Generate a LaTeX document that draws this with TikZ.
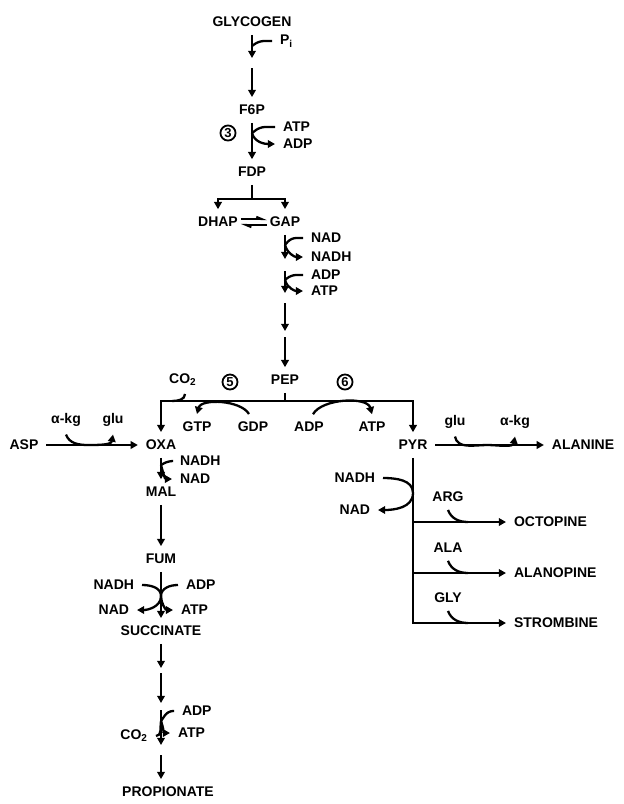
\documentclass[tikz,border=0pt]{standalone}
\usepackage{fontspec}
\setmainfont{Liberation Sans}
\usetikzlibrary{arrows.meta}

\begin{document}
\begin{tikzpicture}[x=0.5pt,y=-0.5pt,
    every node/.style={font=\fontsize{7}{8}\selectfont\bfseries},
    lbl/.style={inner sep=2pt,outer sep=2pt},
    num/.style={draw,circle,line width=0.9pt,inner sep=0.6pt,
                font=\fontsize{6.5}{7}\selectfont\bfseries},
    ln/.style={line width=1.15pt},
    arm/.style={ln,rounded corners=2.5pt},
    arr/.style={ln,-{Triangle[length=3.6pt,width=3.8pt]}},
    harp/.style={line width=0.9pt,shorten <=-2.5pt,shorten >=-2.5pt,
                 -{Straight Barb[left,length=3pt,width=2.5pt]}}]

  \useasboundingbox (0,0) rectangle (624,804);

  %% Glycogen to FDP
  \node[lbl] (glyc) at (252,22) {GLYCOGEN};
  \node[lbl,anchor=west] (pi) at (272,41) {P\textsubscript{i}};
  \coordinate (kpi) at (252,46);
  \coordinate (g1) at (252,58);
  \coordinate (g2) at (252,68);
  \node[lbl] (f6p) at (252,110) {F6P};
  \node[num] (n3) at (228,133) {3};
  \node[lbl,anchor=west] (atp1) at (275,127) {ATP};
  \node[lbl,anchor=west] (adp1) at (275,144) {ADP};
  \coordinate (k1) at (252,133);
  \node[lbl] (fdp) at (252,172) {FDP};
  \coordinate (fb) at (252,199);

  \draw[arr] (glyc) -- (g1);
  \draw[arm] (pi.west) -- ++(-13,0) -- (kpi);
  \draw[arr] (g2) -- (f6p);
  \draw[arr] (f6p) -- (fdp);
  \draw[arm] (atp1.west) -- ++(-15,0) -- (k1);
  \draw[arr] (k1) to[out=-75,in=180] (adp1.west);

  %% Triose phosphates
  \node[lbl] (dhap) at (218,222) {DHAP};
  \node[lbl] (gap) at (285,222) {GAP};
  \draw[ln] (fdp) -- (fb);
  \draw[arr] (fb) -| (dhap);
  \draw[arr] (fb) -| (gap);
  \draw[harp] ([yshift=1.4pt]dhap.east) -- ([yshift=1.4pt]gap.west);
  \draw[harp] ([yshift=-1.4pt]gap.west) -- ([yshift=-1.4pt]dhap.east);

  %% GAP to PEP
  \coordinate (h1) at (285,259);
  \coordinate (k2) at (285,245);
  \node[lbl,anchor=west] (nad1) at (303,238) {NAD};
  \node[lbl,anchor=west] (nadh1) at (303,257) {NADH};
  \coordinate (h2) at (285,271);
  \coordinate (k3) at (285,280);
  \coordinate (h3) at (285,293);
  \node[lbl,anchor=west] (adp2) at (303,275) {ADP};
  \node[lbl,anchor=west] (atp2) at (303,291) {ATP};
  \coordinate (h4) at (285,303);
  \coordinate (h5) at (285,331);
  \coordinate (h6) at (285,337);
  \node[lbl] (pep) at (285,380) {PEP};

  \draw[arr] (gap) -- (h1);
  \draw[arm] (nad1.west) -- ++(-12,0) -- (k2);
  \draw[arr] (k2) to[out=-75,in=180] (nadh1.west);
  \draw[arr] (h2) -- (h3);
  \draw[arm] (adp2.west) -- ++(-12,0) -- (k3);
  \draw[arr] (k3) to[out=-75,in=180] (atp2.west);
  \draw[arr] (h4) -- (h5);
  \draw[arr] (h6) -- (pep);

  %% PEP branch point
  \node[lbl] (co2) at (183,380) {CO\textsubscript{2}};
  \node[num] (n5) at (230,382) {5};
  \node[num] (n6) at (345,382) {6};
  \coordinate (j0) at (285,401);
  \coordinate (cj) at (172,401);
  \node[lbl] (oxa) at (161,445) {OXA};
  \node[lbl] (pyr) at (413,445) {PYR};
  \node[lbl] (gtp) at (197,427) {GTP};
  \node[lbl] (gdp) at (253,427) {GDP};
  \node[lbl] (adp5) at (309,427) {ADP};
  \node[lbl] (atp5) at (372,427) {ATP};

  \draw[ln] (pep) -- (j0);
  \draw[arr] (j0) -| (oxa);
  \draw[arr] (j0) -| (pyr);
  \draw[ln] ([xshift=1pt]co2.south) to[out=-90,in=0] (cj);
  \draw[arr] ([xshift=-2pt]gdp.north) to[out=120,in=75,looseness=0.8] (gtp.north);
  \draw[arr] ([xshift=2pt]adp5.north) to[out=60,in=105,looseness=0.8] (atp5.north);

  %% Aspartate and alanine
  \node[lbl] (asp) at (24,445) {ASP};
  \node[lbl] (akg) at (66,420) {α-kg};
  \node[lbl] (glu) at (113,420) {glu};
  \coordinate (aj) at (88,445);
  \node[lbl] (alanine) at (583,445) {ALANINE};
  \node[lbl] (glu2) at (455,422) {glu};
  \node[lbl] (akg2) at (515,422) {α-kg};
  \coordinate (pj) at (487,445);

  \draw[arr] (asp) -- (oxa);
  \draw[arr] (akg.south) to[out=-70,in=180] (aj) to[out=0,in=-100] (glu.south);
  \draw[arr] (pyr) -- (alanine);
  \draw[arr] (glu2.south) to[out=-80,in=180] (pj) to[out=0,in=-100] (akg2.south);

  %% OXA to succinate
  \coordinate (k5) at (161,465);
  \node[lbl,anchor=west] (nadh2) at (172,461) {NADH};
  \node[lbl,anchor=west] (nad2) at (172,479) {NAD};
  \node[lbl] (mal) at (161,492) {MAL};
  \node[lbl] (fum) at (161,559) {FUM};
  \coordinate (x1) at (161,596);
  \node[lbl,anchor=east] (nadh3) at (142,585) {NADH};
  \node[lbl,anchor=west] (adp3) at (178,585) {ADP};
  \node[lbl,anchor=east] (nad3) at (137,610) {NAD};
  \node[lbl,anchor=west] (atp3) at (173,610) {ATP};
  \node[lbl] (succ) at (161,631) {SUCCINATE};

  \draw[arr] (oxa) -- (mal);
  \draw[arm] (nadh2.west) -- ++(-4,0) -- (k5);
  \draw[arr] (k5) to[out=-75,in=180] (nad2.west);
  \draw[arr] (mal) -- (fum);
  \draw[arr] (fum) -- (succ);
  \draw[arr] (nadh3.east) to[out=0,in=90] (x1) to[out=-90,in=0] (nad3.east);
  \draw[arr] (adp3.west) to[out=180,in=90] (x1) to[out=-90,in=180] (atp3.west);

  %% Succinate to propionate
  \coordinate (s1) at (161,668);
  \coordinate (s2) at (161,673);
  \coordinate (s3) at (161,703);
  \coordinate (s4) at (161,710);
  \coordinate (k6) at (161,721);
  \coordinate (s5) at (161,745);
  \coordinate (s6) at (161,755);
  \node[lbl,anchor=west] (adp4) at (174,711) {ADP};
  \node[lbl,anchor=west] (atp4) at (170,733) {ATP};
  \node[lbl,anchor=east] (co2b) at (156,736) {CO\textsubscript{2}};
  \node[lbl] (prop) at (168,792) {PROPIONATE};

  \draw[arr] (succ) -- (s1);
  \draw[arr] (s2) -- (s3);
  \draw[arr] (s4) -- (s5);
  \draw[arm] (adp4.west) -- ++(-6,0) -- (k6);
  \draw[arr] (k6) to[out=-70,in=180] (atp4.west);
  \draw[ln] (k6) to[out=-100,in=0] (co2b.east);
  \draw[arr] (s6) -- (s6 |- prop.north);

  %% Opines
  \node[lbl,anchor=east] (nadh4) at (383,478) {NADH};
  \node[lbl,anchor=east] (nad4) at (378,510) {NAD};
  \coordinate (p1) at (413,493);
  \node[lbl,anchor=west] (octo) at (506,522) {OCTOPINE};
  \node[lbl,anchor=west] (alano) at (506,573) {ALANOPINE};
  \node[lbl,anchor=west] (strom) at (506,623) {STROMBINE};
  \node[lbl] (arg) at (448,497) {ARG};
  \node[lbl] (alaa) at (448,548) {ALA};
  \node[lbl] (gly) at (448,598) {GLY};
  \coordinate (oj1) at (468,522);
  \coordinate (oj2) at (468,573);
  \coordinate (oj3) at (468,623);

  \draw[arr] (nadh4.east) to[out=0,in=90] (p1) to[out=-90,in=0] (nad4.east);
  \draw[arr] (pyr) |- (strom);
  \draw[arr] (pyr |- octo) -- (octo);
  \draw[arr] (pyr |- alano) -- (alano);
  \draw[ln] (arg.south) to[out=-70,in=180] (oj1);
  \draw[ln] (alaa.south) to[out=-70,in=180] (oj2);
  \draw[ln] (gly.south) to[out=-70,in=180] (oj3);
\end{tikzpicture}
\end{document}
